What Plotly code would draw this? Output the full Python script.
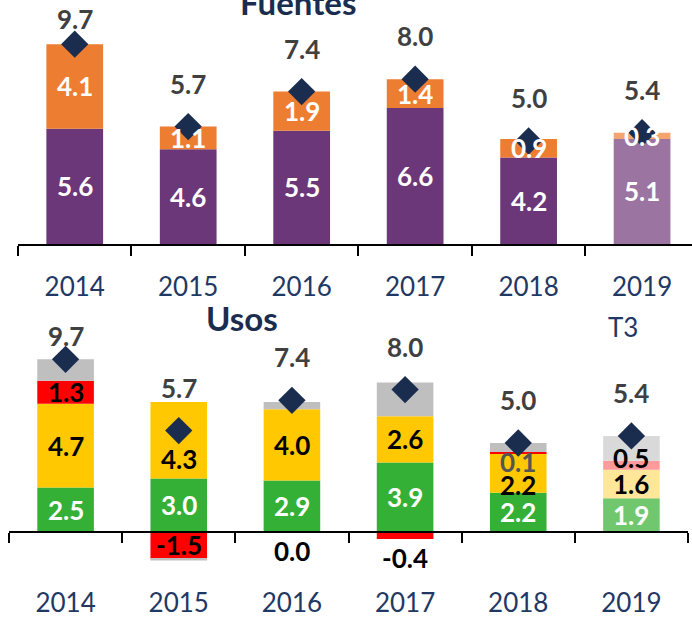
import plotly.graph_objects as go

# Fuentes y usos
years = ["2014", "2015", "2016", "2017", "2018", "2019"]
totals = [9.7, 5.7, 7.4, 8.0, 5.0, 5.4]

fuentes_purple = [5.6, 4.6, 5.5, 6.6, 4.2, 5.1]
fuentes_orange = [4.1, 1.1, 1.9, 1.4, 0.9, 0.3]

usos_green = [2.5, 3.0, 2.9, 3.9, 2.2, 1.9]
usos_yellow = [4.7, 4.3, 4.0, 2.6, 2.2, 1.6]
usos_red = [1.3, -1.5, 0.0, -0.4, 0.1, 0.5]
usos_grey = [1.2, -0.1, 0.4, 1.9, 0.5, 1.4]

NAVY = "#1b2d4f"
FONT = "Lato"
W, H = 692, 619

# colores: el último año (T3) va en tono claro
def colors(base, light):
    return [base] * (len(years) - 1) + [light]

top_series = [
    (fuentes_purple, colors("#6b3778", "#9b74a1"), "white"),
    (fuentes_orange, colors("#ed7d31", "#f4a46e"), "white"),
]
bottom_series = [
    (usos_green, colors("#33b035", "#70c76e"), "white"),
    (usos_yellow, colors("#ffc800", "#ffe699"), "black"),
    (usos_red, colors("#ff0000", "#ff9a9a"), "black"),
    (usos_grey, colors("#bfbfbf", "#d9d9d9"), None),
]

# pequeños ajustes de etiquetas que se solapan (serie, año) -> px
nudge = {(1, 1): -19, (1, 4): -12, (2, 4): -9, (2, 5): 7}
label_color = {(2, 4): "#555555"}

fig = go.Figure()
annotations = []


def add_panel(series, xa, ya, ppu, cap, panel):
    pos = [0.0] * len(years)
    neg = [0.0] * len(years)
    for k, (vals, cols, tcol) in enumerate(series):
        fig.add_trace(go.Bar(
            x=years, y=vals, marker=dict(color=cols, line=dict(width=0)),
            width=0.5, xaxis=xa, yaxis=ya, hoverinfo="skip",
        ))
        for i, v in enumerate(vals):
            if v > 0:
                mid, pos[i] = pos[i] + v / 2, pos[i] + v
                end = pos[i]
            else:
                mid, neg[i] = neg[i] + v / 2, neg[i] + v
                end = neg[i]
            if tcol is None:
                continue
            key = (k, i) if panel == "usos" else None
            # en ejes de categoría los nombres numéricos se leen como índice
            ann = dict(
                x=i, xref=xa, yref=ya, text=f"{v:.1f}", showarrow=False,
                font=dict(family=FONT, size=26, weight="bold",
                          color=label_color.get(key, tcol)),
            )
            if v <= 0 and abs(v) < 1:
                ann.update(y=end, yanchor="top", yshift=-1)
            else:
                ann.update(y=mid, yanchor="middle", yshift=nudge.get(key, 0))
            annotations.append(ann)

    fig.add_trace(go.Scatter(
        x=years, y=totals, mode="markers", xaxis=xa, yaxis=ya,
        marker=dict(symbol="diamond", size=21, color=NAVY), hoverinfo="skip",
    ))
    for i, t in enumerate(totals):
        annotations.append(dict(
            x=i, y=min(t + 43 / ppu, cap), xref=xa, yref=ya,
            text=f"{t:.1f}", showarrow=False, yanchor="middle",
            font=dict(family=FONT, size=26, weight="bold", color="#404040"),
        ))


# escalas en px por unidad medidas en la imagen
top_ppu, bot_ppu = 20.6, 17.8
top_zero, bot_zero = 244, 532

add_panel(top_series, "x", "y", top_ppu, 10.9, "fuentes")
add_panel(bottom_series, "x2", "y2", bot_ppu, 11.0, "usos")

annotations += [
    dict(text="<b>Fuentes</b>", x=298 / W, y=1 - 2 / H, xref="paper", yref="paper",
         showarrow=False, yanchor="middle", font=dict(family=FONT, size=33, color=NAVY)),
    dict(text="<b>Usos</b>", x=242 / W, y=1 - 318 / H, xref="paper", yref="paper",
         showarrow=False, yanchor="middle", font=dict(family=FONT, size=33, color=NAVY)),
    dict(text="T3", x=640 / W, y=1 - 327 / H, xref="paper", yref="paper",
         showarrow=False, yanchor="middle", font=dict(family=FONT, size=26, color="#1f3864")),
]

axis_style = dict(
    type="category", showline=True, linecolor="black", linewidth=1.5,
    ticks="outside", ticklen=10, tickwidth=1.5, tickcolor="black",
    tickson="boundaries", showgrid=False, zeroline=False,
    tickfont=dict(family=FONT, size=26, color="#1f3864"),
)

fig.update_layout(
    width=W, height=H,
    margin=dict(l=0, r=0, t=0, b=0),
    paper_bgcolor="white", plot_bgcolor="white",
    barmode="relative", showlegend=False,
    annotations=annotations,
    xaxis=dict(axis_style, domain=[18 / W, 1], range=[-0.5, 5.44],
               anchor="y", ticklabelstandoff=19),
    yaxis=dict(domain=[1 - top_zero / H, 1], range=[0, top_zero / top_ppu], visible=False),
    xaxis2=dict(axis_style, domain=[9 / W, 688 / W], range=[-0.5, 5.5],
                anchor="free", position=1 - bot_zero / H, ticklabelstandoff=48),
    yaxis2=dict(domain=[1 - 575 / H, 1 - 320 / H],
                range=[-(575 - bot_zero) / bot_ppu, (bot_zero - 320) / bot_ppu],
                visible=False),
)

# quitar el margen por defecto del <body> para que el gráfico empiece en (0, 0)
fig.write_html("out.html", config={"displayModeBar": False},
               post_script="document.body.style.margin = '0';")
